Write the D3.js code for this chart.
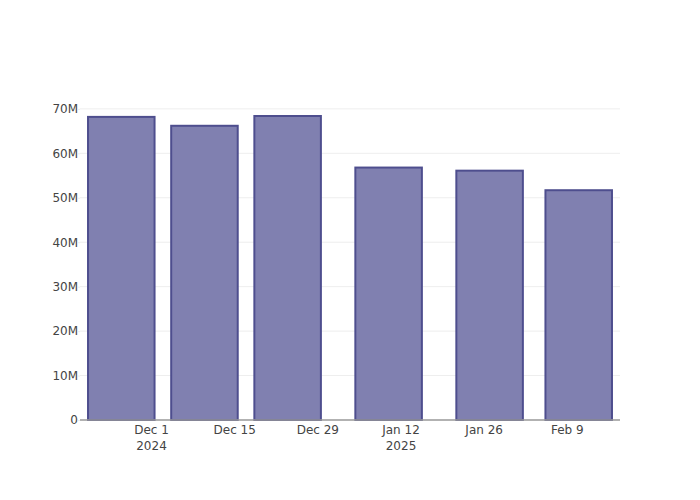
<!DOCTYPE html>
<html>
<head>
<meta charset="utf-8">
<script src="https://cdn.jsdelivr.net/npm/d3@7"></script>
<style>
  html, body { margin: 0; padding: 0; background: #fff; }
  svg { display: block; font-family: "DejaVu Sans", sans-serif; }
</style>
</head>
<body>
<svg id="chart" width="700" height="500"></svg>
<script>
// ---- data ----
const dates = ["2024-11-26", "2024-12-10", "2024-12-24", "2025-01-10", "2025-01-27", "2025-02-11"];
const values = [68.2e6, 66.2e6, 68.4e6, 56.8e6, 56.1e6, 51.7e6];
const xTickDates = ["2024-12-01", "2024-12-15", "2024-12-29", "2025-01-12", "2025-01-26", "2025-02-09"];
const xTickLabels = [["Dec 1", "2024"], ["Dec 15"], ["Dec 29"], ["Jan 12", "2025"], ["Jan 26"], ["Feb 9"]];
const yTickValues = [0, 10e6, 20e6, 30e6, 40e6, 50e6, 60e6, 70e6];
const yTickLabels = ["0", "10M", "20M", "30M", "40M", "50M", "60M", "70M"];

// ---- layout ----
const margin = { l: 80, r: 80, t: 100, b: 80 };
const W = 700, H = 500;
const pw = W - margin.l - margin.r, ph = H - margin.t - margin.b;
const DAY = 864e5;
const barDays = 11.2;  // bar width in days
const padDays = 1.35;

const parse = d3.utcParse("%Y-%m-%d");
const xd = dates.map(parse);
const svg = d3.select("#chart");

const x = d3.scaleUtc()
  .domain([new Date(+d3.min(xd) - (barDays / 2 + padDays) * DAY), new Date(+d3.max(xd) + (barDays / 2 + padDays) * DAY)])
  .range([margin.l, margin.l + pw]);
const y = d3.scaleLinear().domain([0, 72e6]).range([margin.t + ph, margin.t]);

// gridlines
svg.append("g").selectAll("line").data(yTickValues.slice(1)).join("line")
  .attr("x1", margin.l).attr("x2", margin.l + pw)
  .attr("y1", d => y(d)).attr("y2", d => y(d))
  .attr("stroke", "#eeeeee").attr("stroke-width", 1);

// bars
const halfW = (x(new Date(+xd[0] + barDays / 2 * DAY)) - x(xd[0]));
svg.append("g").selectAll("rect").data(values).join("rect")
  .attr("x", (d, i) => x(xd[i]) - halfW)
  .attr("width", halfW * 2)
  .attr("y", d => y(d))
  .attr("height", d => y(0) - y(d))
  .attr("fill", "rgb(128,128,176)")
  .attr("stroke", "rgb(78,78,142)")
  .attr("stroke-width", 2);

// y axis
const yAxis = d3.axisLeft(y).tickValues(yTickValues)
  .tickFormat((d, i) => yTickLabels[i]).tickSize(0).tickPadding(1);
const gy = svg.append("g").attr("transform", `translate(${margin.l - 1},0)`).call(yAxis);
gy.select(".domain").remove();
gy.selectAll("text").attr("fill", "#444").attr("font-size", 12).attr("font-family", "DejaVu Sans, sans-serif");
// small tick stubs
gy.selectAll(".tick").append("line").attr("x1", -1).attr("x2", 1).attr("stroke", "#eeeeee");

// x axis line
svg.append("line")
  .attr("x1", margin.l).attr("x2", margin.l + pw)
  .attr("y1", y(0)).attr("y2", y(0))
  .attr("stroke", "#999").attr("stroke-width", 1.5);

// x tick labels
const xAxis = d3.axisBottom(x).tickValues(xTickDates.map(parse)).tickSize(0).tickFormat("");
const gx = svg.append("g").attr("transform", `translate(0,${y(0)})`).call(xAxis);
gx.select(".domain").remove();
gx.selectAll(".tick").each(function (d, i) {
  const t = d3.select(this).append("text")
    .attr("fill", "#444").attr("font-size", 12)
    .attr("font-family", "DejaVu Sans, sans-serif")
    .attr("text-anchor", "middle");
  xTickLabels[i].forEach((s, j) => {
    t.append("tspan").attr("x", 0).attr("y", 14 + j * 15.5).text(s);
  });
});
</script>
</body>
</html>
